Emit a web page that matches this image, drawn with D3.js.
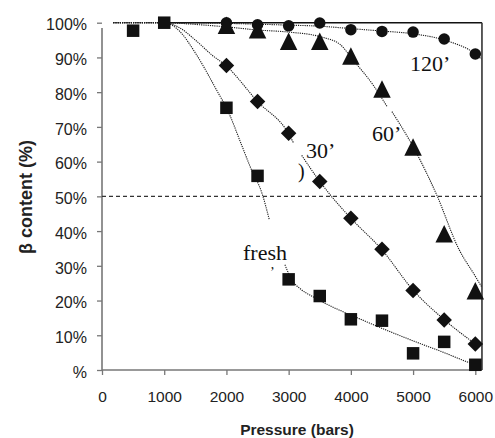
<!DOCTYPE html>
<html>
<head>
<meta charset="utf-8">
<script src="https://cdn.jsdelivr.net/npm/d3@7/dist/d3.min.js"></script>
<style>
  body { margin: 0; background: #fff; }
  text { font-family: "Liberation Sans", Arial, sans-serif; }
  .lbl { font-family: "Liberation Serif", "Times New Roman", serif; font-size: 22px; fill: #111; }
</style>
</head>
<body>
<div id="chart"></div>
<script>
// ---- data ----
var xTicks = [0, 1000, 2000, 3000, 4000, 5000, 6000];
var yTicks = [0, 10, 20, 30, 40, 50, 60, 70, 80, 90, 100];
var yTickLabels = ["%", "10%", "20%", "30%", "40%", "50%", "60%", "70%", "80%", "90%", "100%"];

var freshP = [500, 1000, 2000, 2500, 3000, 3500, 4000, 4500, 5000, 5500, 6000];
var freshV = [97.7, 100, 75.5, 55.9, 26.1, 21.3, 14.6, 14.2, 4.8, 8.1, 1.5];

var min30P = [2000, 2500, 3000, 3500, 4000, 4500, 5000, 5500, 6000];
var min30V = [87.7, 77.3, 68.2, 54.3, 43.7, 34.8, 22.9, 14.4, 7.5];

var min60P = [2000, 2500, 3000, 3500, 4000, 4500, 5000, 5500, 6000];
var min60V = [98.4, 97.1, 93.8, 93.8, 89.6, 80.1, 63.4, 38.4, 22.0];

var min120P = [2000, 2500, 3000, 3500, 4000, 4500, 5000, 5500, 6000];
var min120V = [100, 99.4, 99.1, 99.9, 98.0, 97.5, 97.3, 95.3, 91.0];

// fitted curves (dotted); null = gap under a label
var fitFresh = [[180, 100], [1000, 100], [1250, 97.5], [1500, 91.3], [1870, 79.7], [2000, 75.5],
  [2250, 64.5], [2380, 58.6], [2580, 50.4], [2690, 43.2], null,
  [2940, 30.3], [3050, 26], [3200, 23.2], [3400, 21], [4250, 13.9], [5000, 8.4], [5500, 5], [5860, 2.4], [6000, 1.5]];
var fit30 = [[180, 100], [1000, 100], [1250, 98.5], [1500, 95], [1760, 90.8], [2000, 87.5],
  [2500, 77.3], [3000, 68], [3075, 65.5], null,
  [3210, 61.8], [3500, 54.3], [3670, 50.4], [4000, 43.7], [4500, 34.6], [5000, 23], [5500, 14.5], [6000, 7.5]];
var fit60 = [[180, 100], [1000, 100], [1500, 99.5], [2000, 98.8], [2500, 97.9], [3000, 97.3],
  [3500, 96], [3830, 93.7], [4010, 89.8], [4360, 82], [4580, 75.9], null,
  [4660, 74.4], [5000, 64.3], [5380, 50.4], [5730, 35], [6000, 27], [6100, 24]];
var fit120 = [[180, 100], [1000, 100], [2000, 99.8], [3000, 99.3], [3500, 99], [4000, 98.3],
  [4500, 97.6], [5000, 96.8], [5500, 95], [6000, 91], [6100, 89.5]];

// ---- layout ----
var width = 495, height = 438;
var x = d3.scaleLinear().domain([0, 6000]).range([102, 475.3]);
var y = d3.scaleLinear().domain([0, 100]).range([370, 22.7]);
var xEnd = x(6107);

var svg = d3.select("#chart").append("svg")
  .attr("width", width)
  .attr("height", height);

// axes
var yAxis = svg.append("g")
  .attr("transform", "translate(" + x(0) + ",0)")
  .call(d3.axisLeft(y).tickValues(yTicks).tickSize(5).tickSizeOuter(0)
    .tickFormat(function(d, i) { return yTickLabels[i]; }));
yAxis.select(".domain").remove();
yAxis.selectAll(".tick line").attr("stroke", "#777").attr("stroke-width", 1.3);
yAxis.selectAll(".tick text")
  .attr("x", -15).attr("dy", "0.45em")
  .style("font-size", "16px").attr("fill", "#222");

var xAxis = svg.append("g")
  .attr("transform", "translate(0," + y(0) + ")")
  .call(d3.axisBottom(x).tickValues(xTicks).tickSize(5).tickSizeOuter(0).tickFormat(d3.format("d")));
xAxis.select(".domain").remove();
xAxis.selectAll(".tick line").attr("stroke", "#777").attr("stroke-width", 1.3);
xAxis.selectAll(".tick text")
  .attr("y", 21).attr("dy", "0.71em")
  .style("font-size", "15.5px").attr("fill", "#222");

// frame
svg.append("line").attr("x1", x(0)).attr("x2", x(0)).attr("y1", y(98.5)).attr("y2", y(0))
  .attr("stroke", "#777").attr("stroke-width", 1.6);
svg.append("line").attr("x1", x(0)).attr("x2", xEnd).attr("y1", y(0)).attr("y2", y(0))
  .attr("stroke", "#777").attr("stroke-width", 1.6);
svg.append("line").attr("x1", x(1000)).attr("x2", xEnd).attr("y1", y(100)).attr("y2", y(100))
  .attr("stroke", "#111").attr("stroke-width", 1.6);
svg.append("line").attr("x1", xEnd).attr("x2", xEnd).attr("y1", y(100)).attr("y2", y(0))
  .attr("stroke", "#333").attr("stroke-width", 1.6);

// 50% reference
svg.append("line").attr("x1", x(0)).attr("x2", xEnd).attr("y1", y(50)).attr("y2", y(50))
  .attr("stroke", "#333").attr("stroke-width", 1.2).attr("stroke-dasharray", "4,3");

// fitted curves
var line = d3.line()
  .defined(function(d) { return d != null; })
  .x(function(d) { return x(d[0]); })
  .y(function(d) { return y(d[1]); })
  .curve(d3.curveMonotoneX);

[fitFresh, fit30, fit60, fit120].forEach(function(f) {
  svg.append("path").datum(f)
    .attr("d", line)
    .attr("fill", "none")
    .attr("stroke", "#1a1a1a")
    .attr("stroke-width", 1.1)
    .attr("stroke-dasharray", "1.2,1");
});

// marker shapes
var square = { draw: function(c, s) { c.rect(-s / 2, -s / 2, s, s); } };
var diamond = { draw: function(c, s) { var r = s / 2; c.moveTo(0, -r); c.lineTo(r, 0); c.lineTo(0, r); c.lineTo(-r, 0); c.closePath(); } };
var triangle = { draw: function(c, s) { c.moveTo(0, -s * 2 / 3); c.lineTo(s / 2, s / 3); c.lineTo(-s / 2, s / 3); c.closePath(); } };
var circle = { draw: function(c, s) { c.moveTo(s / 2, 0); c.arc(0, 0, s / 2, 0, 2 * Math.PI); } };

function drawSeries(P, V, type, size) {
  svg.append("g").selectAll("path")
    .data(P.map(function(p, i) { return [p, V[i]]; }))
    .enter().append("path")
    .attr("transform", function(d) { return "translate(" + x(d[0]) + "," + y(d[1]) + ")"; })
    .attr("d", d3.symbol().type(type).size(size))
    .attr("fill", "#111");
}
drawSeries(min120P, min120V, circle, 11.5);
drawSeries(min60P, min60V, triangle, 17.5);
drawSeries(min30P, min30V, diamond, 15.5);
drawSeries(freshP, freshV, square, 12.5);

// curve labels
svg.append("text").attr("class", "lbl").attr("x", 410).attr("y", 71).text("120’");
svg.append("text").attr("class", "lbl").attr("x", 372).attr("y", 141).text("60’");
svg.append("text").attr("class", "lbl").attr("x", 306).attr("y", 158).text("30’");
svg.append("text").attr("class", "lbl").attr("x", 298).attr("y", 178).style("font-size", "20px").text(")");
svg.append("text").attr("class", "lbl").attr("x", 243).attr("y", 260).text("fresh");
svg.append("text").attr("class", "lbl").attr("x", 270).attr("y", 277).style("font-size", "14px").text("’");

// axis titles
svg.append("text")
  .attr("x", 297).attr("y", 435)
  .attr("text-anchor", "middle")
  .style("font-size", "15.5px").style("font-weight", "bold").attr("fill", "#222")
  .text("Pressure (bars)");
svg.append("text")
  .attr("transform", "translate(32,197) rotate(-90)")
  .attr("text-anchor", "middle")
  .style("font-size", "18px").style("font-weight", "bold").attr("fill", "#222")
  .text("β content (%)");
</script>
</body>
</html>
